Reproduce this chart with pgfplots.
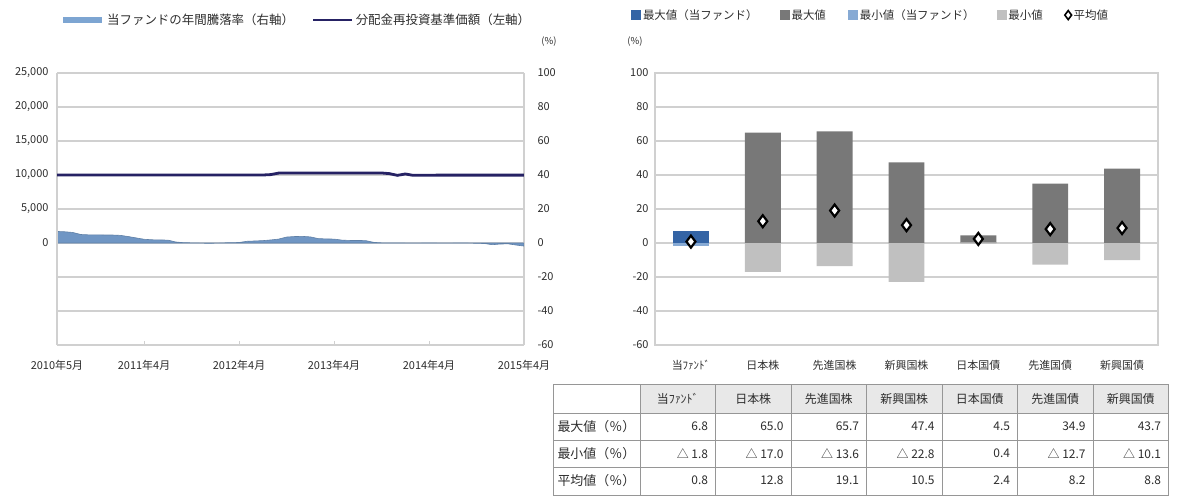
\documentclass[border=0pt]{standalone}
\usepackage{fontspec}
\setmainfont{Noto Sans CJK JP}
\usepackage{pgfplots}
\pgfplotsset{compat=1.18}
\definecolor{navy}{RGB}{38,34,100}
\definecolor{areablue}{RGB}{112,150,196}
\definecolor{legblue}{RGB}{125,165,210}
\definecolor{maxfund}{RGB}{52,100,165}
\definecolor{minfund}{RGB}{135,170,212}
\definecolor{maxgray}{RGB}{120,120,120}
\definecolor{mingray}{RGB}{192,192,192}
\definecolor{gridc}{RGB}{208,208,208}
\definecolor{txt}{RGB}{45,45,45}
\definecolor{tabline}{RGB}{150,150,150}
\definecolor{tabhead}{RGB}{232,232,232}
\newcommand{\fs}[1]{\fontsize{#1}{#1}\selectfont}
\begin{document}
\begin{tikzpicture}
\useasboundingbox (0bp,0bp) rectangle (1180bp,-498bp);

% ---------- left chart: annual return (right axis) ----------
\begin{axis}[
  at={(57bp,-345bp)}, anchor=south west,
  width=467bp, height=272bp, scale only axis,
  xmin=0, xmax=59, ymin=-60, ymax=100,
  axis x line*=bottom, axis y line*=right,
  axis line style={gridc, line width=1.2bp},
  ytick={-60,-40,...,100},
  ymajorgrids, grid style={gridc, line width=1.6bp},
  ytick style={draw=none},
  xtick={0,11,23,35,47,59},
  xticklabels={2010年5月,2011年4月,2012年4月,2013年4月,2014年4月,2015年4月},
  tick align=inside, major tick length=4bp,
  xtick style={gridc, line width=1bp},
  ticklabel style={font=\fs{11}, text=txt},
  /pgf/number format/assume math mode=true,
  yticklabel style={anchor=west, xshift=10bp},
  xticklabel style={yshift=-12bp},
]
\addplot[fill=areablue, draw=areablue!85!black, line width=0.6bp] table {
0 6.8
1 6.6
2 6.2
3 5.0
4 4.8
5 4.8
6 4.7
7 4.7
8 4.5
9 3.8
10 3.0
11 2.2
12 1.9
13 1.8
14 1.7
15 0.6
16 0.2
17 0.1
18 0.0
19 -0.2
20 -0.1
21 0.1
22 0.2
23 0.3
24 1.0
25 1.2
26 1.4
27 1.8
28 2.3
29 3.5
30 3.8
31 3.9
32 3.6
33 2.6
34 2.4
35 2.3
36 1.7
37 1.5
38 1.5
39 1.4
40 0.4
41 0.1
42 0.0
43 0.1
44 0.0
45 -0.1
46 0.0
47 0.1
48 0.0
49 -0.1
50 0.0
51 0.1
52 0.0
53 -0.2
54 -0.3
55 -1.0
56 -0.6
57 -0.5
58 -1.2
59 -1.8
} \closedcycle;
\end{axis}

% ---------- left chart: NAV (left axis) ----------
\begin{axis}[
  at={(57bp,-345bp)}, anchor=south west,
  width=467bp, height=272bp, scale only axis,
  xmin=0, xmax=59, ymin=-15000, ymax=25000,
  hide x axis, axis y line*=left,
  axis line style={gridc, line width=1.2bp},
  ytick={0,5000,...,25000}, scaled y ticks=false,
  /pgf/number format/assume math mode=true,
  /pgf/number format/1000 sep={,},
  yticklabel style={font=\fs{11}, text=txt, xshift=-5bp},
  ytick style={draw=none},
  legend style={at={(0,1.195)}, anchor=west, draw=none, fill=none,
    legend columns=2, font=\fs{12.5}, text=txt,
    /tikz/every even column/.append style={column sep=16bp}},
  legend image code/.code={\draw[#1] (0bp,0bp) -- (39bp,0bp);},
]
\addlegendimage{legblue, line width=6bp}
\addlegendentry{当ファンドの年間騰落率（右軸）}
\addplot[navy, line width=2.8bp] table {
0 10000
4 10000
8 10000
12 10000
16 10000
20 10000
24 10000
26 10000
27 10060
28 10280
30 10300
34 10300
38 10300
41 10300
42 10200
43 9950
44 10150
45 9950
48 9980
52 9980
56 9980
59 9980
};
\addlegendentry{分配金再投資基準価額（左軸）}
\end{axis}

\node[font=\fs{9.5}, text=txt] at (549bp,-42bp) {(\%)};
\node[font=\fs{9.5}, text=txt] at (635bp,-42bp) {(\%)};

% ---------- right chart ----------
\begin{axis}[
  at={(655bp,-345bp)}, anchor=south west,
  width=503bp, height=272bp, scale only axis,
  xmin=-0.5, xmax=6.5, ymin=-60, ymax=100,
  axis line style={gridc, line width=1.2bp},
  ytick={-60,-40,...,100},
  ymajorgrids, grid style={gridc, line width=1.6bp},
  xtick={0,...,6},
  xticklabels={当ﾌｧﾝﾄﾞ,日本株,先進国株,新興国株,日本国債,先進国債,新興国債},
  tick style={draw=none},
  ticklabel style={font=\fs{11}, text=txt},
  /pgf/number format/assume math mode=true,
  yticklabel style={xshift=-3bp},
  xticklabel style={yshift=-12bp},
  legend style={at={(-0.054,1.213)}, anchor=west, draw=none, fill=none,
    legend columns=5, font=\fs{11.5}, text=txt,
    /tikz/every even column/.append style={column sep=20bp}},
  legend image code/.code={\fill[#1] (0bp,-5bp) rectangle (10bp,5bp);},
]
\addplot[ybar, bar width=0.5, bar shift=0pt, fill=maxfund, draw=none] coordinates {(0,6.8)};
\addlegendentry{最大値（当ファンド）}
\addplot[ybar, bar width=0.5, bar shift=0pt, fill=maxgray, draw=none] coordinates {(1,65.0) (2,65.7) (3,47.4) (4,4.5) (5,34.9) (6,43.7)};
\addlegendentry{最大値}
\addplot[ybar, bar width=0.5, bar shift=0pt, fill=minfund, draw=none] coordinates {(0,-1.8)};
\addlegendentry{最小値（当ファンド）}
\addplot[ybar, bar width=0.5, bar shift=0pt, fill=mingray, draw=none] coordinates {(1,-17.0) (2,-13.6) (3,-22.8) (4,0.4) (5,-12.7) (6,-10.1)};
\addlegendentry{最小値}
\addplot[only marks, mark=diamond*, mark size=6bp, mark options={fill=white, draw=black, line width=2.2bp},
  legend image code/.code={\draw[mark=diamond*, mark size=4.5bp, mark options={fill=white, draw=black, line width=1.6bp}] plot coordinates {(5bp,0bp)};}]
  coordinates {(0,0.8) (1,12.8) (2,19.1) (3,10.5) (4,2.4) (5,8.2) (6,8.8)};
\addlegendentry{平均値}
\end{axis}

% ---------- table ----------
\fill[tabhead] (640bp,-384bp) rectangle (1168.5bp,-413bp);
\draw[tabline, line width=0.9bp] (553bp,-384bp) rectangle (1168.5bp,-495bp);
\foreach \yy in {413,440,467} \draw[tabline, line width=0.9bp] (553bp,-\yy bp) -- (1168.5bp,-\yy bp);
\draw[tabline, line width=0.9bp] (640bp,-384bp) -- (640bp,-495bp);
\foreach \k in {1,...,6} \draw[tabline, line width=0.9bp] ({(640+75.5*\k)*1bp},-384bp) -- ({(640+75.5*\k)*1bp},-495bp);
\foreach \lab [count=\i from 0] in {当ﾌｧﾝﾄﾞ,日本株,先進国株,新興国株,日本国債,先進国債,新興国債}
  \node[font=\fs{12}, text=txt] at ({(677.75+75.5*\i)*1bp},-398.5bp) {\lab};
\node[font=\fs{13}, text=txt, anchor=west] at (554bp,-426.5bp) {最大値（％）};
\node[font=\fs{13}, text=txt, anchor=west] at (554bp,-453.5bp) {最小値（％）};
\node[font=\fs{13}, text=txt, anchor=west] at (554bp,-480.5bp) {平均値（％）};
\foreach \v [count=\i from 1] in {6.8,65.0,65.7,47.4,4.5,34.9,43.7}
  \node[font=\fs{12}, text=txt, anchor=east] at ({(640+75.5*\i-4)*1bp},-426.5bp) {\v};
\foreach \v [count=\i from 1] in {△ 1.8,△ 17.0,△ 13.6,△ 22.8,0.4,△ 12.7,△ 10.1}
  \node[font=\fs{12}, text=txt, anchor=east] at ({(640+75.5*\i-4)*1bp},-453.5bp) {\v};
\foreach \v [count=\i from 1] in {0.8,12.8,19.1,10.5,2.4,8.2,8.8}
  \node[font=\fs{12}, text=txt, anchor=east] at ({(640+75.5*\i-4)*1bp},-480.5bp) {\v};
\end{tikzpicture}
\end{document}
